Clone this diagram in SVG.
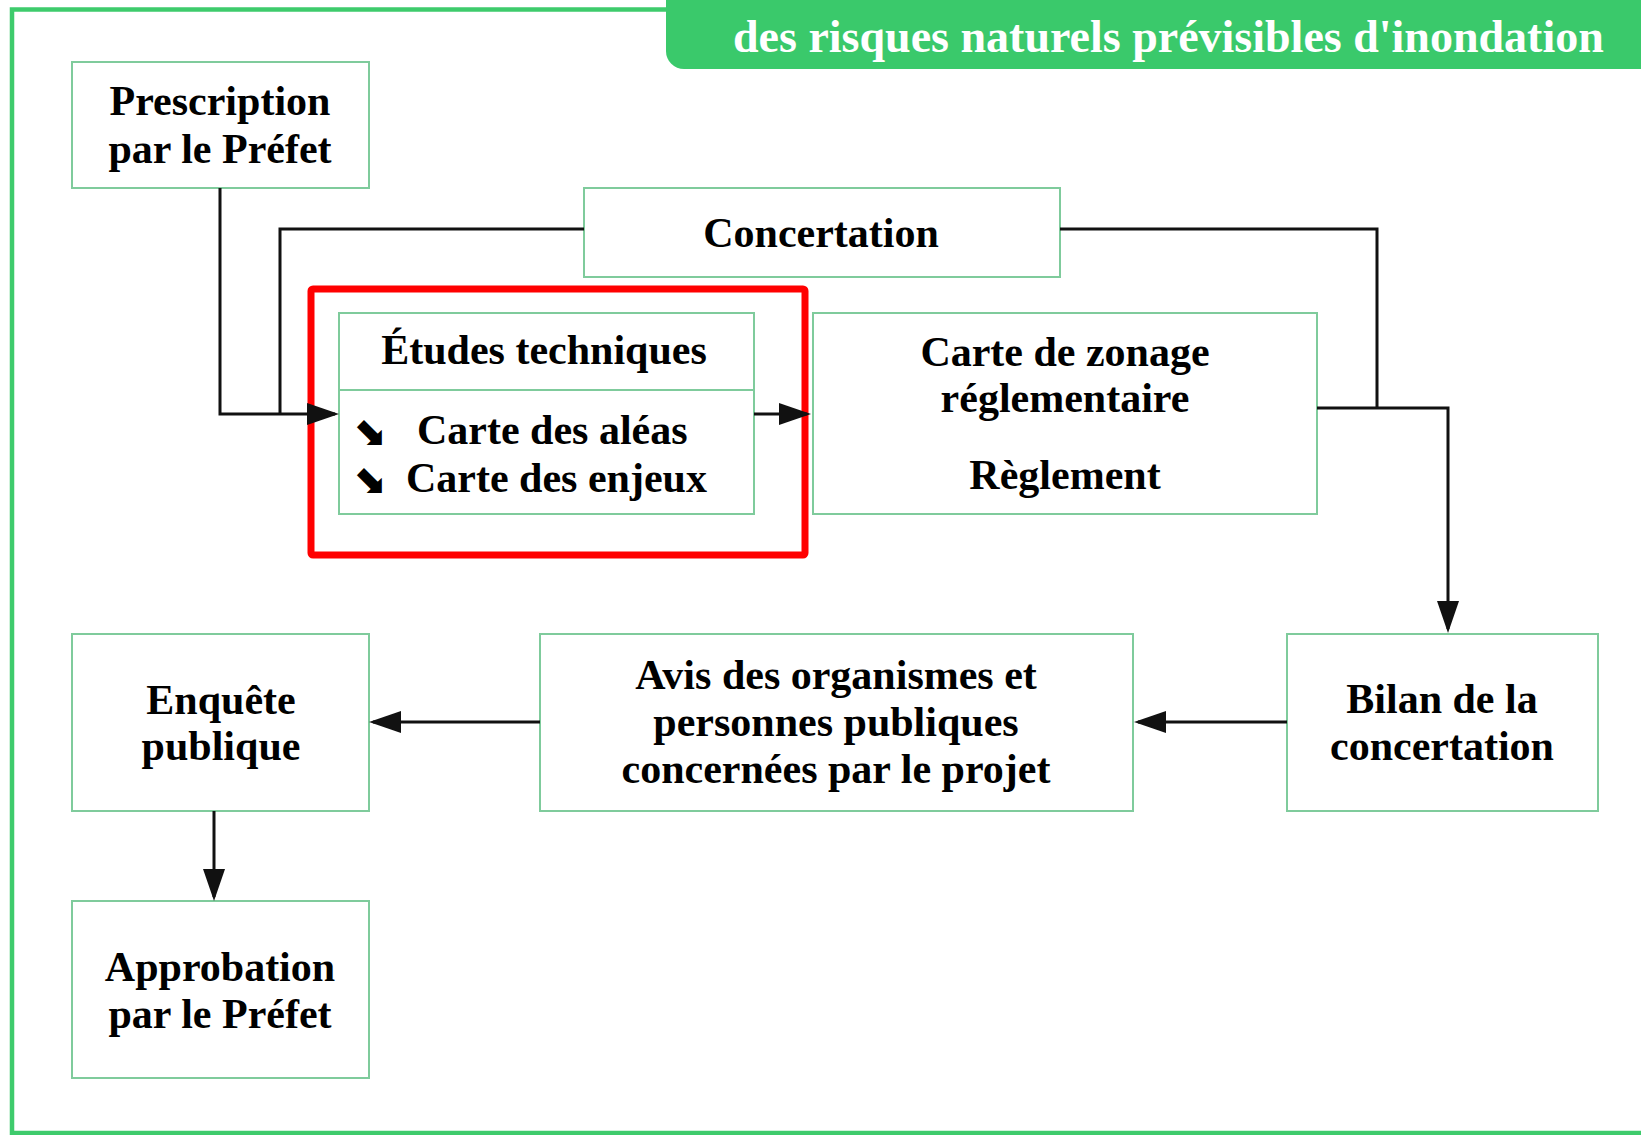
<svg xmlns="http://www.w3.org/2000/svg" width="1641" height="1135" viewBox="0 0 1641 1135">
<style>
.frame{fill:none;stroke:#3ECB6C;stroke-width:4.5}
.banner{fill:#3AC96B}
.title{font-family:"Liberation Serif","Times New Roman",serif;font-weight:bold;font-size:46px;fill:#ffffff}
.box{fill:#ffffff;stroke:#7FCB9C;stroke-width:2}
.hl{fill:none;stroke:#FF0000;stroke-width:7}
.t{font-family:"Liberation Serif","Times New Roman",serif;font-weight:bold;font-size:42px;fill:#000000;text-anchor:middle}
.ts{font-family:"Liberation Serif","Times New Roman",serif;font-weight:bold;font-size:42px;fill:#000000}
.bul{font-family:"DejaVu Sans",sans-serif;font-weight:bold;font-size:40px;fill:#000000}
.c{fill:none;stroke:#111111;stroke-width:3}
</style>
<defs>
<marker id="ah" viewBox="0 0 32 22" refX="28" refY="11" markerWidth="32" markerHeight="22" markerUnits="userSpaceOnUse" orient="auto">
<path d="M0,0 L32,11 L0,22 Z" fill="#111111"/>
</marker>
</defs>
<rect width="1641" height="1135" fill="#ffffff"/>
<rect class="frame" x="12" y="9.5" width="1700" height="1123.5"/>
<g id="title">
<rect class="banner" x="666" y="-40" width="1000" height="109" rx="18"/>
<text class="title" x="733" y="52">des risques naturels prévisibles d'inondation</text>
</g>
<rect id="highlight" class="hl" x="311" y="289" width="494" height="266" rx="2"/>
<g id="prescription">
<rect class="box" x="72" y="62" width="297" height="126"/>
<text class="t" x="220" y="115">Prescription</text>
<text class="t" x="220" y="163">par le Préfet</text>
</g>
<g id="concertation">
<rect class="box" x="584" y="188" width="476" height="89"/>
<text class="t" x="821" y="247">Concertation</text>
</g>
<g id="etudes">
<rect class="box" x="339" y="313" width="415" height="201"/>
<line x1="339" y1="390" x2="754" y2="390" stroke="#7FCB9C" stroke-width="2"/>
<text class="t" x="544" y="364">Études techniques</text>
<text class="bul" x="352" y="444">⬊</text>
<text class="ts" x="417" y="444">Carte des aléas</text>
<text class="bul" x="352" y="492">⬊</text>
<text class="ts" x="406" y="492">Carte des enjeux</text>
</g>
<g id="zonage">
<rect class="box" x="813" y="313" width="504" height="201"/>
<text class="t" x="1065" y="366">Carte de zonage</text>
<text class="t" x="1065" y="412">réglementaire</text>
<text class="t" x="1065" y="489">Règlement</text>
</g>
<g id="bilan">
<rect class="box" x="1287" y="634" width="311" height="177"/>
<text class="t" x="1442" y="713">Bilan de la</text>
<text class="t" x="1442" y="760">concertation</text>
</g>
<g id="avis">
<rect class="box" x="540" y="634" width="593" height="177"/>
<text class="t" x="836" y="689">Avis des organismes et</text>
<text class="t" x="836" y="736">personnes publiques</text>
<text class="t" x="836" y="783">concernées par le projet</text>
</g>
<g id="enquete">
<rect class="box" x="72" y="634" width="297" height="177"/>
<text class="t" x="221" y="714">Enquête</text>
<text class="t" x="221" y="760">publique</text>
</g>
<g id="approbation">
<rect class="box" x="72" y="901" width="297" height="177"/>
<text class="t" x="220" y="981">Approbation</text>
<text class="t" x="220" y="1028">par le Préfet</text>
</g>
<g id="connectors">
<path class="c" d="M220,188 V414 H335" marker-end="url(#ah)"/>
<path class="c" d="M584,229 H280 V414"/>
<path class="c" d="M754,414 H807" marker-end="url(#ah)"/>
<path class="c" d="M1060,229 H1377 V408"/>
<path class="c" d="M1317,408 H1448 V629" marker-end="url(#ah)"/>
<path class="c" d="M1287,722 H1138" marker-end="url(#ah)"/>
<path class="c" d="M540,722 H373" marker-end="url(#ah)"/>
<path class="c" d="M214,811 V897" marker-end="url(#ah)"/>
</g>
</svg>
